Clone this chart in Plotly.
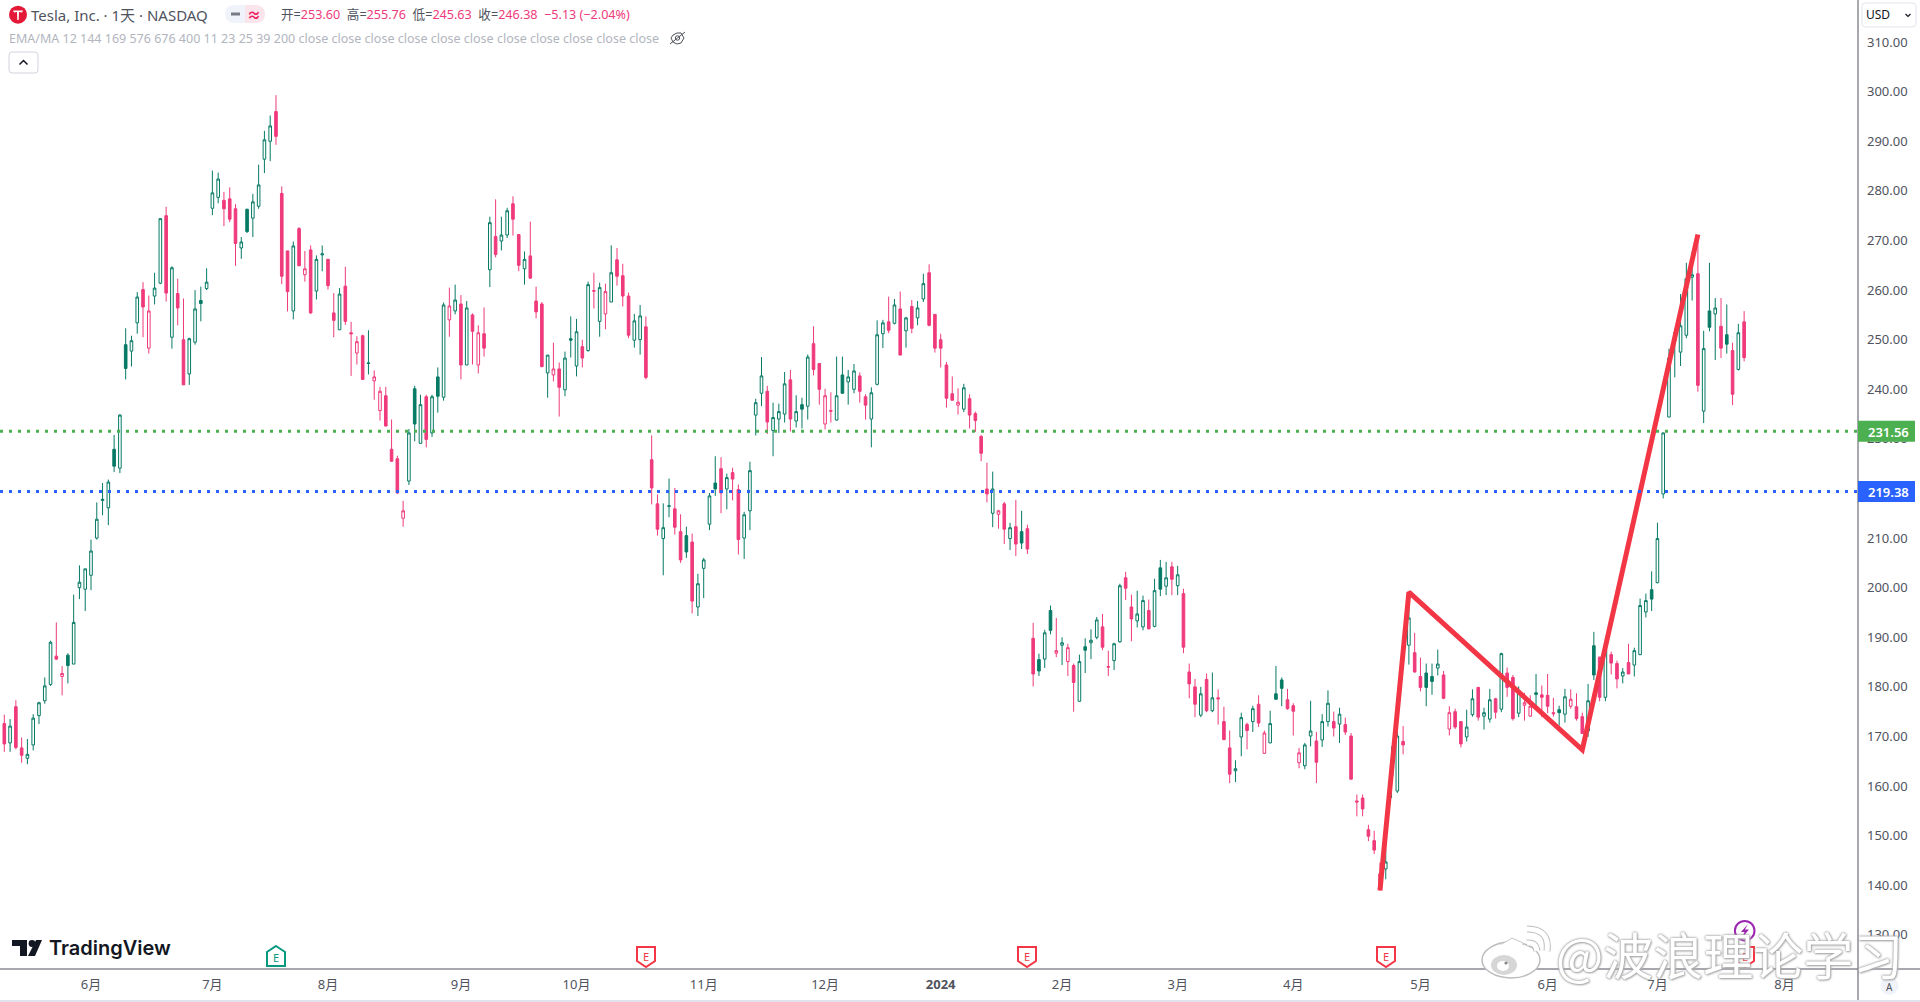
import plotly.graph_objects as go

W, H = 1920, 1002
AX_X, AX_Y = 1858, 969

opens = [
 172.6,168.7,176.0,167.7,165.6,168.3,174.2,177.2,180.5,186.2,
 182.1,186.4,184.6,200.0,199.7,202.5,210.0,217.6,216.1,227.9,
 224.1,249.0,247.7,253.4,260.1,248.3,258.8,261.4,275.0,250.5,
 259.3,250.0,243.1,249.5,257.9,260.3,276.5,278.7,278.1,278.4,
 276.4,268.5,276.3,274.5,276.9,286.4,290.0,296.0,279.5,267.9,
 255.8,272.4,263.1,268.1,259.8,267.1,266.2,255.4,252.0,260.8,
 251.4,247.3,250.8,245.2,241.7,235.7,238.7,227.9,226.0,214.0,
 221.5,240.1,229.1,238.5,231.2,242.5,238.4,254.0,255.8,257.2,
 244.9,255.0,244.9,251.2,264.1,270.8,269.9,271.1,277.4,271.2,
 264.3,266.9,257.8,257.2,243.3,242.9,244.1,239.9,250.2,244.7,
 248.6,247.8,259.9,253.7,255.2,257.6,266.1,262.9,258.8,249.9,
 250.0,252.6,225.8,216.9,209.9,216.4,215.9,211.3,210.5,209.2,
 196.1,203.9,212.8,221.1,224.0,219.9,223.2,219.8,210.0,215.5,
 234.8,239.2,239.6,231.7,234.0,235.0,241.9,233.6,236.9,236.6,
 249.2,245.2,233.0,235.7,233.8,242.9,241.5,240.0,242.7,238.5,
 234.0,241.0,251.2,253.6,253.3,256.2,251.8,256.7,254.4,258.2,
 263.5,255.1,250.0,244.9,239.1,236.8,236.0,238.1,235.1,230.5,
 219.9,215.0,214.8,216.9,209.9,212.3,211.3,211.9,189.8,185.5,
 185.6,195.4,186.8,188.4,185.1,184.3,177.1,188.1,188.9,190.0,
 192.1,184.1,185.3,189.1,202.0,196.1,193.3,192.1,195.4,192.2,
 204.0,200.3,204.2,200.4,198.8,183.0,180.0,174.3,181.5,175.2,
 177.8,173.0,167.7,163.1,169.9,172.4,173.0,176.5,166.6,168.7,
 178.6,181.4,177.4,176.2,164.7,164.1,170.1,169.1,169.3,173.0,
 173.0,172.5,172.4,170.1,157.0,157.6,151.2,149.0,140.3,143.3,
 162.9,159.0,169.0,188.4,186.9,182.1,182.8,182.1,183.8,182.4,
 171.5,175.0,173.0,169.9,174.4,179.9,174.1,173.5,177.6,175.5,
 182.8,181.9,174.7,176.3,174.1,178.8,178.4,178.3,174.8,175.4,
 174.5,176.1,176.0,174.0,171.1,188.3,186.0,177.9,186.5,184.7,
 182.2,184.9,184.4,186.5,195.1,199.6,201.0,218.9,234.4,249.8,
 247.5,250.9,262.6,263.3,235.6,255.8,255.2,252.7,251.0,247.8,
 244.0,253.60]
highs = [
 174.4,173.5,177.3,169.8,169.5,174.5,177.0,181.9,189.3,193.0,
 184.2,186.8,198.6,204.5,203.8,209.7,217.2,221.1,221.8,230.8,
 235.0,252.3,250.8,259.6,261.6,258.9,263.5,274.5,276.8,264.8,
 262.3,258.3,250.4,260.0,260.7,264.4,284.1,283.7,279.8,280.7,
 277.3,270.7,276.4,279.4,285.3,292.1,295.2,299.3,280.9,267.9,
 269.8,272.7,267.9,269.0,267.0,269.0,266.3,259.4,260.4,264.7,
 253.6,250.7,251.0,251.9,243.8,240.5,240.5,233.9,226.6,217.5,
 232.0,240.7,238.9,238.9,238.9,244.4,257.5,260.5,261.1,259.0,
 257.8,255.3,252.9,256.5,274.8,278.3,274.8,276.6,278.9,271.3,
 267.8,273.8,260.7,257.6,246.9,249.4,245.4,247.6,254.7,254.2,
 250.0,261.7,263.5,261.5,261.3,269.0,268.5,265.3,259.5,255.2,
 257.0,254.7,230.7,218.8,217.0,222.0,220.1,214.8,212.3,210.9,
 202.8,206.0,219.1,226.5,226.3,223.0,224.2,220.8,215.3,225.4,
 238.1,246.5,240.7,237.3,237.1,243.5,243.9,238.8,238.3,247.0,
 252.7,245.2,240.1,239.4,246.6,246.6,243.9,245.1,243.4,239.0,
 240.4,253.9,254.0,258.7,258.2,259.7,254.6,258.0,257.8,263.3,
 265.2,255.1,251.2,245.5,242.6,240.2,241.1,239.0,235.5,230.8,
 225.2,223.4,215.7,217.3,213.1,217.7,215.5,212.7,192.9,186.7,
 191.5,196.4,193.9,190.0,188.7,184.7,186.5,189.8,191.6,194.1,
 194.7,187.3,188.9,200.8,203.2,198.6,199.4,198.4,197.6,201.8,
 205.6,205.2,205.2,204.4,199.8,184.7,181.6,180.0,182.7,182.9,
 179.5,176.0,171.2,165.2,174.8,172.8,176.2,178.3,171.2,175.2,
 184.2,181.9,179.6,176.7,167.7,168.7,177.2,170.9,174.5,179.3,
 175.0,175.8,173.8,170.7,158.3,158.3,152.2,151.0,144.6,147.3,
 168.0,170.9,172.1,198.8,190.9,185.9,184.7,184.7,187.5,183.2,
 176.1,175.6,173.0,175.4,179.5,180.0,175.8,179.6,177.8,186.9,
 183.9,182.4,180.1,178.8,178.3,182.6,180.3,182.6,177.8,176.2,
 179.6,179.5,178.7,174.8,180.6,191.1,186.1,188.0,187.1,185.3,
 183.8,188.7,187.9,197.8,198.8,203.3,213.1,231.3,248.2,252.2,
 259.2,265.5,267.6,271.0,251.8,265.5,258.4,258.4,257.1,249.4,
 253.2,255.76]
lows = [
 166.9,166.9,167.4,164.7,164.4,167.2,172.5,176.6,180.2,185.4,
 178.3,180.7,184.6,197.7,195.3,199.5,209.7,214.6,212.6,223.3,
 223.1,242.0,244.6,251.2,250.5,247.2,257.1,261.2,257.7,248.2,
 252.9,240.9,240.9,249.0,253.7,260.0,275.1,277.5,272.9,273.7,
 264.9,266.3,271.5,270.7,276.4,283.6,286.0,289.3,261.2,255.7,
 254.1,264.9,261.7,255.2,258.1,263.8,260.1,250.5,252.0,253.0,
 242.7,245.0,242.0,243.0,237.9,233.7,232.5,225.4,218.9,212.3,
 220.7,229.5,229.1,228.3,230.4,235.3,237.7,250.6,255.1,242.0,
 244.9,245.0,243.2,246.6,260.6,266.6,268.0,270.5,271.0,263.8,
 261.1,262.4,254.3,244.4,238.3,241.6,234.5,238.6,246.4,242.6,
 244.4,247.6,256.3,250.6,252.1,257.6,260.9,256.7,250.3,248.4,
 247.0,242.0,216.8,210.5,202.5,214.2,210.7,205.0,206.0,194.8,
 194.3,197.9,211.6,218.5,215.0,215.8,217.6,206.7,205.8,211.6,
 230.7,236.6,231.0,226.5,231.2,233.3,231.5,232.3,232.1,233.9,
 242.8,236.9,231.9,233.3,233.7,239.1,236.9,239.2,237.3,233.9,
 228.3,240.8,248.3,251.3,253.1,246.9,248.4,251.3,252.9,257.6,
 252.7,247.4,244.4,236.3,237.7,234.9,235.4,232.1,231.4,225.5,
 217.2,212.2,211.9,208.8,207.6,206.4,207.8,206.8,180.1,182.2,
 183.8,190.6,186.0,184.4,182.2,175.0,177.1,182.8,185.6,189.6,
 187.4,182.2,183.4,188.9,197.5,189.2,192.0,191.4,191.6,192.0,
 198.3,198.5,198.5,198.5,186.8,177.7,173.9,173.9,174.9,174.9,
 172.4,169.2,160.6,160.8,166.0,167.4,170.9,171.9,166.5,168.7,
 177.5,176.1,175.4,170.2,163.6,163.4,168.0,160.6,167.9,172.0,
 170.0,168.7,170.3,161.3,153.9,153.9,148.9,146.3,138.9,141.2,
 157.6,158.6,166.4,184.5,182.9,179.1,176.1,178.4,182.3,177.5,
 170.2,171.5,167.8,169.0,174.0,173.2,171.4,172.8,173.6,174.9,
 178.0,173.2,173.9,173.2,174.0,175.4,173.9,174.7,174.0,172.2,
 172.8,175.6,173.2,170.5,169.9,181.4,177.1,177.1,182.5,179.7,
 180.7,182.6,182.1,186.4,194.0,195.3,200.9,218.0,234.4,242.4,
 244.7,250.3,257.9,239.5,233.2,251.7,245.9,246.3,247.2,236.8,
 243.8,245.63]
closes = [
 168.5,172.1,167.8,166.2,166.4,173.7,176.8,180.2,189.0,185.6,
 182.7,184.3,193.0,201.1,203.8,207.4,213.8,217.8,221.3,224.5,
 234.8,244.2,249.8,258.6,256.6,255.8,260.4,274.4,259.4,264.5,
 256.4,240.9,250.2,256.2,257.3,261.6,279.6,282.4,276.4,274.3,
 269.4,269.7,271.8,277.8,281.2,290.3,293.1,291.0,262.8,259.7,
 268.9,264.9,264.3,255.4,266.2,267.3,260.9,253.9,259.2,253.7,
 251.2,249.6,242.0,245.3,242.5,239.6,232.6,225.5,219.1,215.5,
 231.2,233.0,236.9,229.9,238.5,238.6,257.0,256.8,258.0,244.9,
 256.4,251.7,251.4,248.3,273.6,267.2,271.1,276.0,274.3,265.0,
 266.2,262.4,255.6,244.6,246.9,244.1,240.4,246.3,249.9,251.6,
 246.3,261.1,259.8,260.5,259.7,263.5,262.8,258.8,250.9,253.8,
 254.8,242.4,220.1,211.8,212.1,216.5,212.2,205.6,207.2,197.3,
 200.8,205.6,218.5,219.9,219.1,222.2,221.9,209.7,214.7,223.6,
 237.3,242.7,233.4,234.3,235.5,241.1,234.0,235.5,236.0,246.5,
 244.0,240.0,238.7,235.6,238.7,239.2,242.5,243.7,239.6,236.8,
 239.3,251.0,253.4,251.9,257.0,246.9,254.4,252.3,256.4,261.3,
 252.9,248.3,248.3,238.2,237.8,237.4,240.3,234.8,233.7,227.1,
 218.9,219.9,215.5,211.8,212.1,208.8,209.0,207.8,182.6,183.2,
 190.9,191.4,187.3,188.9,187.9,180.9,185.1,187.4,189.4,193.5,
 188.0,184.0,188.7,200.4,199.9,193.7,194.7,197.4,191.7,199.4,
 199.7,202.0,201.7,202.6,188.0,180.6,176.5,178.6,175.2,177.8,
 177.6,169.4,162.4,163.5,173.8,171.2,175.6,172.7,170.7,172.6,
 177.5,179.7,175.6,175.1,166.7,168.3,171.1,164.8,173.0,176.7,
 171.7,174.5,170.9,161.4,156.8,155.4,149.9,147.1,142.3,144.7,
 162.0,170.1,168.3,193.9,183.0,179.9,179.9,181.1,184.6,177.7,
 174.8,171.9,168.5,171.9,177.6,173.9,174.8,177.4,174.9,186.7,
 179.9,173.6,179.2,176.8,176.1,178.5,177.9,176.1,174.6,174.8,
 178.0,177.5,173.6,170.6,177.2,182.4,177.9,187.5,184.8,181.6,
 183.0,182.6,187.3,196.4,197.4,197.7,209.9,231.2,246.3,251.4,
 252.8,262.3,263.1,240.8,248.2,252.5,256.4,248.3,249.1,239.0,
 251.4,246.38]
# g = closed above the previous close, r = closed below it
tones = ("rgrrgggggr" "rggggggggg" "ggggrrggrg" "rrggggggrr" "rggggggrrr"
         "grrrggrrgr" "rrrgrrrrrr" "gggrgggrgr" "grrrgrggrr" "grrrgrrggg"
         "rgrgrgrrrg" "grrrggrrgr" "ggggrgrrgg" "ggrgggrggg" "rrrrggggrr"
         "gggrgrgrgg" "rrrrrrgrrr" "rgrrgrgrrg" "ggrgrrgggg" "rrggrrggrg"
         "ggrgrrrgrg" "rrrggrgrrg" "ggrrrggrgg" "rgrrrrrrrg" "ggrgrrgggr"
         "rrrggrggrg" "rrgrrgrrrg" "grrrggrgrr" "grgggggggg" "gggrgggrgr" "gr")

tick_bars = [15, 36, 56, 79, 99, 121, 142, 162, 183, 203, 223, 245, 267, 286, 308]
tick_labels = ["6月", "7月", "8月", "9月", "10月", "11月", "12月", "<b>2024</b>",
               "2月", "3月", "4月", "5月", "6月", "7月", "8月"]
price_ticks = [130, 140, 150, 160, 170, 180, 190, 200, 210, 220, 230, 240, 250,
               260, 270, 280, 290, 300, 310]

zigzag_bars = [238, 243, 273, 293]
zigzag_prices = [138.95, 199.1, 167.3, 271.2]

levels = [231.56, 219.38]
level_colors = ["#4CAF50", "#2962FF"]

GREEN = "#067A65"
PINK = "#EF3A7B"
GREY = "#50535E"
FONT = "Noto Sans, Noto Sans CJK SC, sans-serif"


def px(x):
    return x / W


def py(y):
    return 1 - y / H


def P(*pts, close=False):
    s = "M " + " L ".join(f"{px(a):.5f},{py(b):.5f}" for a, b in pts)
    return s + (" Z" if close else "")


shapes, notes = [], []


def path(d, fill=None, color=None, width=1):
    shapes.append(dict(type="path", path=d, xref="paper", yref="paper",
                       fillcolor=fill or "rgba(0,0,0,0)", layer="above",
                       line=dict(color=color or "rgba(0,0,0,0)", width=width if color else 0)))


def rect(x0, y0, x1, y1, fill=None, color=None, width=1):
    shapes.append(dict(type="rect", x0=px(x0), x1=px(x1), y0=py(y0), y1=py(y1),
                       xref="paper", yref="paper", layer="above",
                       fillcolor=fill or "rgba(0,0,0,0)",
                       line=dict(color=color or "rgba(0,0,0,0)", width=width if color else 0)))


def round_rect(x0, y0, x1, y1, r, fill=None, color=None, width=1):
    def q(a, b, c, d):
        return f"Q {px(a):.5f},{py(b):.5f} {px(c):.5f},{py(d):.5f}"
    d = (f"M {px(x0+r):.5f},{py(y0):.5f} L {px(x1-r):.5f},{py(y0):.5f} {q(x1,y0,x1,y0+r)} "
         f"L {px(x1):.5f},{py(y1-r):.5f} {q(x1,y1,x1-r,y1)} L {px(x0+r):.5f},{py(y1):.5f} "
         f"{q(x0,y1,x0,y1-r)} L {px(x0):.5f},{py(y0+r):.5f} {q(x0,y0,x0+r,y0)} Z")
    path(d, fill, color, width)


def circle(cx, cy, rx, ry=None, fill=None, color=None, width=1):
    ry = ry or rx
    shapes.append(dict(type="circle", x0=px(cx-rx), x1=px(cx+rx), y0=py(cy-ry), y1=py(cy+ry),
                       xref="paper", yref="paper", layer="above",
                       fillcolor=fill or "rgba(0,0,0,0)",
                       line=dict(color=color or "rgba(0,0,0,0)", width=width if color else 0)))


def text(s, x, y, size=12, color=GREY, anchor="left", family=FONT, **fontkw):
    notes.append(dict(text=s, x=px(x), y=py(y), xref="paper", yref="paper", showarrow=False,
                      xanchor=anchor, yanchor="middle", borderpad=0, borderwidth=0,
                      font=dict(size=size, color=color, family=family, **fontkw)))


def flag(cx, color, up):
    if up:
        pts = [(cx, 946), (cx+9, 952), (cx+9, 966), (cx-9, 966), (cx-9, 952)]
    else:
        pts = [(cx-9, 947), (cx+9, 947), (cx+9, 961), (cx, 967), (cx-9, 961)]
    path(P(*pts, close=True), "#FFFFFF", color, 2)
    text("E", cx, 957 if up else 956, 11, color, "center")


# axis frame
path(P((0, AX_Y), (W, AX_Y)), None, GREY, 1)
path(P((AX_X, 0), (AX_X, H)), None, GREY, 1)
path(P((0, 1001), (W, 1001)), None, "#E0E3EB", 2)

# price badges
for lvl, col in zip(levels, level_colors):
    yy = 240.5 + (270 - lvl) * 4.96
    rect(AX_X, yy - 10.5, 1915, yy + 10.5, col)
    text(f"{lvl:.2f}", 1868, yy + 0.5, 13, "#FFFFFF", weight=600)

# header
circle(18, 14.7, 9, fill="#E31937")
path(P((13, 10.5), (23, 10.5), (22, 12.5), (19, 12), (18.7, 20), (17.3, 20), (17, 12), (14, 12.5), close=True), "#FFFFFF")
text("Tesla, Inc. · 1天 · NASDAQ", 31, 15, 15, GREY)
path(f"M {px(235):.5f},{py(5):.5f} L {px(245):.5f},{py(5):.5f} L {px(245):.5f},{py(23):.5f} L {px(235):.5f},{py(23):.5f} "
     f"Q {px(225):.5f},{py(23):.5f} {px(225):.5f},{py(14):.5f} Q {px(225):.5f},{py(5):.5f} {px(235):.5f},{py(5):.5f} Z", "#F0F3FA")
path(f"M {px(245):.5f},{py(5):.5f} L {px(255):.5f},{py(5):.5f} Q {px(265):.5f},{py(5):.5f} {px(265):.5f},{py(14):.5f} "
     f"Q {px(265):.5f},{py(23):.5f} {px(255):.5f},{py(23):.5f} L {px(245):.5f},{py(23):.5f} Z", "#FCE4EC")
rect(231, 12.5, 240, 15.5, "#787B86")
text("≈", 254, 14, 14, "#E91E63", "center", weight=700)


def colored(lbl, val):
    return f'<span style="color:#50535E">{lbl}=</span><span style="color:{PINK}">{val}</span>'


ohlc = "  ".join([colored("开", "253.60"), colored("高", "255.76"), colored("低", "245.63"), colored("收", "246.38")])
text(ohlc + f' <span style="color:{PINK}"> −5.13 (−2.04%)</span>', 281, 15, 12.6, GREY)
text("EMA/MA 12 144 169 576 676 400 11 23 25 39 200 close close close close close close close close close close close",
     9, 38.5, 12.5, "#B2B5BE")
path(P((671, 38), (673, 35), (677, 33), (681, 33), (684, 38), (681, 43), (677, 44), (673, 42), close=True), None, GREY, 1)
circle(677.5, 38, 2.2, color=GREY)
path(P((670, 44), (685, 32)), None, GREY, 1)
round_rect(9, 52, 38, 73, 3, None, "#D1D4DC", 1)
path(P((19.5, 64.5), (23.5, 60.5), (27.5, 64.5)), None, "#131722", 1.5)

# currency button
round_rect(1862, 3, 1916, 27, 4, None, "#E0E3EB", 1)
text("USD", 1866, 15, 12, "#131722")
path(P((1905.5, 14), (1908, 16.5), (1910.5, 14)), None, "#131722", 1.2)
circle(1889.5, 986, 9, fill="#F0F3FA")
text("A", 1889.5, 986.5, 10, GREY, "center")

# TradingView mark
path(P((12, 940), (27, 940), (27, 956), (20, 956), (20, 946), (12, 946), close=True), "#131722")
circle(32, 943.5, 3.4, fill="#131722")
path(P((36, 940), (42, 940), (35, 956), (28, 956), close=True), "#131722")
text("TradingView", 49, 948, 20, "#131722", family="Inter, Noto Sans, sans-serif", weight=600)

# earnings and news markers
flag(276, "#089981", True)
flag(646, "#F23645", False)
flag(1027, "#F23645", False)
flag(1386, "#F23645", False)
flag(1745, "#F23645", False)
circle(1744.7, 930.7, 9.8, fill="#FFFFFF", color="#9C27B0", width=2)
path(P((1748, 924), (1741, 932), (1744.5, 932), (1742, 938), (1749, 929.5), (1745, 929.5), close=True), "#9C27B0")

# watermark logo
circle(1511, 960, 29, 18, fill="#FFFFFF", color="#BDBDBD", width=1.5)
path(P((1497, 947), (1512, 938), (1523, 943), (1523, 953), (1505, 953), close=True), "#FFFFFF", "#C8C8C8", 1)
circle(1511, 960, 27.5, 16.5, fill="#FFFFFF")
circle(1504, 965, 13, 10, fill="#D6D6D6")
circle(1503, 966, 6, 5, fill="#FFFFFF")
circle(1506, 963, 1.6, fill="#888888")
for d, w in [(f"M {px(1527):.5f},{py(943):.5f} Q {px(1536):.5f},{py(942):.5f} {px(1537):.5f},{py(951):.5f}", 5),
             (f"M {px(1527):.5f},{py(929):.5f} Q {px(1550):.5f},{py(929):.5f} {px(1547):.5f},{py(951):.5f}", 5)]:
    path(d, None, "#BDBDBD", w + 2)
    path(d, None, "#FFFFFF", w)
text("@波浪理论学习", 1556, 953, 50, "#FFFFFF", family="Noto Sans CJK SC, sans-serif",
     shadow="0 0 2px #999, 0 0 3px #AAA, 1px 1px 2px #BBB")

fig = go.Figure()
for tone, col in (("g", GREEN), ("r", PINK)):
    idx = [i for i, t in enumerate(tones) if t == tone]
    fig.add_trace(go.Candlestick(
        x=idx,
        open=[opens[i] for i in idx], high=[highs[i] for i in idx],
        low=[lows[i] for i in idx], close=[closes[i] for i in idx],
        increasing=dict(line=dict(color=col, width=1), fillcolor="#FFFFFF"),
        decreasing=dict(line=dict(color=col, width=1), fillcolor=col),
        whiskerwidth=0, hoverinfo="skip", showlegend=False))
fig.add_trace(go.Scatter(x=zigzag_bars, y=zigzag_prices, mode="lines",
                         line=dict(color="#F23645", width=5), hoverinfo="skip", showlegend=False))

for lvl, col in zip(levels, level_colors):
    shapes.insert(0, dict(type="line", xref="x domain", yref="y", x0=0, x1=1, y0=lvl, y1=lvl,
                          layer="above", line=dict(color=col, width=3, dash="3px,6px")))

fig.update_layout(
    width=W, height=H, margin=dict(l=0, r=0, t=0, b=0), autosize=False,
    paper_bgcolor="#FFFFFF", plot_bgcolor="#FFFFFF",
    boxmode="overlay", boxgap=0.55, boxgroupgap=0,
    font=dict(family=FONT, color=GREY, size=13),
    xaxis=dict(domain=[0, AX_X / W], range=[-0.744, 320.7], type="linear",
               rangeslider=dict(visible=False), showgrid=False, zeroline=False, showline=False,
               tickmode="array", tickvals=tick_bars, ticktext=tick_labels, ticks="",
               ticklabelstandoff=6, tickfont=dict(size=13, color=GREY), fixedrange=True),
    yaxis=dict(domain=[1 - AX_Y / H, 1], range=[123.12, 318.49], side="right",
               showgrid=False, zeroline=False, showline=False,
               tickmode="array", tickvals=price_ticks, ticktext=[f"{p:.2f}" for p in price_ticks],
               ticks="", ticklabelstandoff=8, tickfont=dict(size=13, color=GREY), fixedrange=True),
    shapes=shapes, annotations=notes, hovermode=False, dragmode=False,
)

fig.write_html("out.html", config=dict(displayModeBar=False),
               post_script="document.body.style.margin='0';document.documentElement.style.overflow='hidden';window.dispatchEvent(new Event('resize'));")
